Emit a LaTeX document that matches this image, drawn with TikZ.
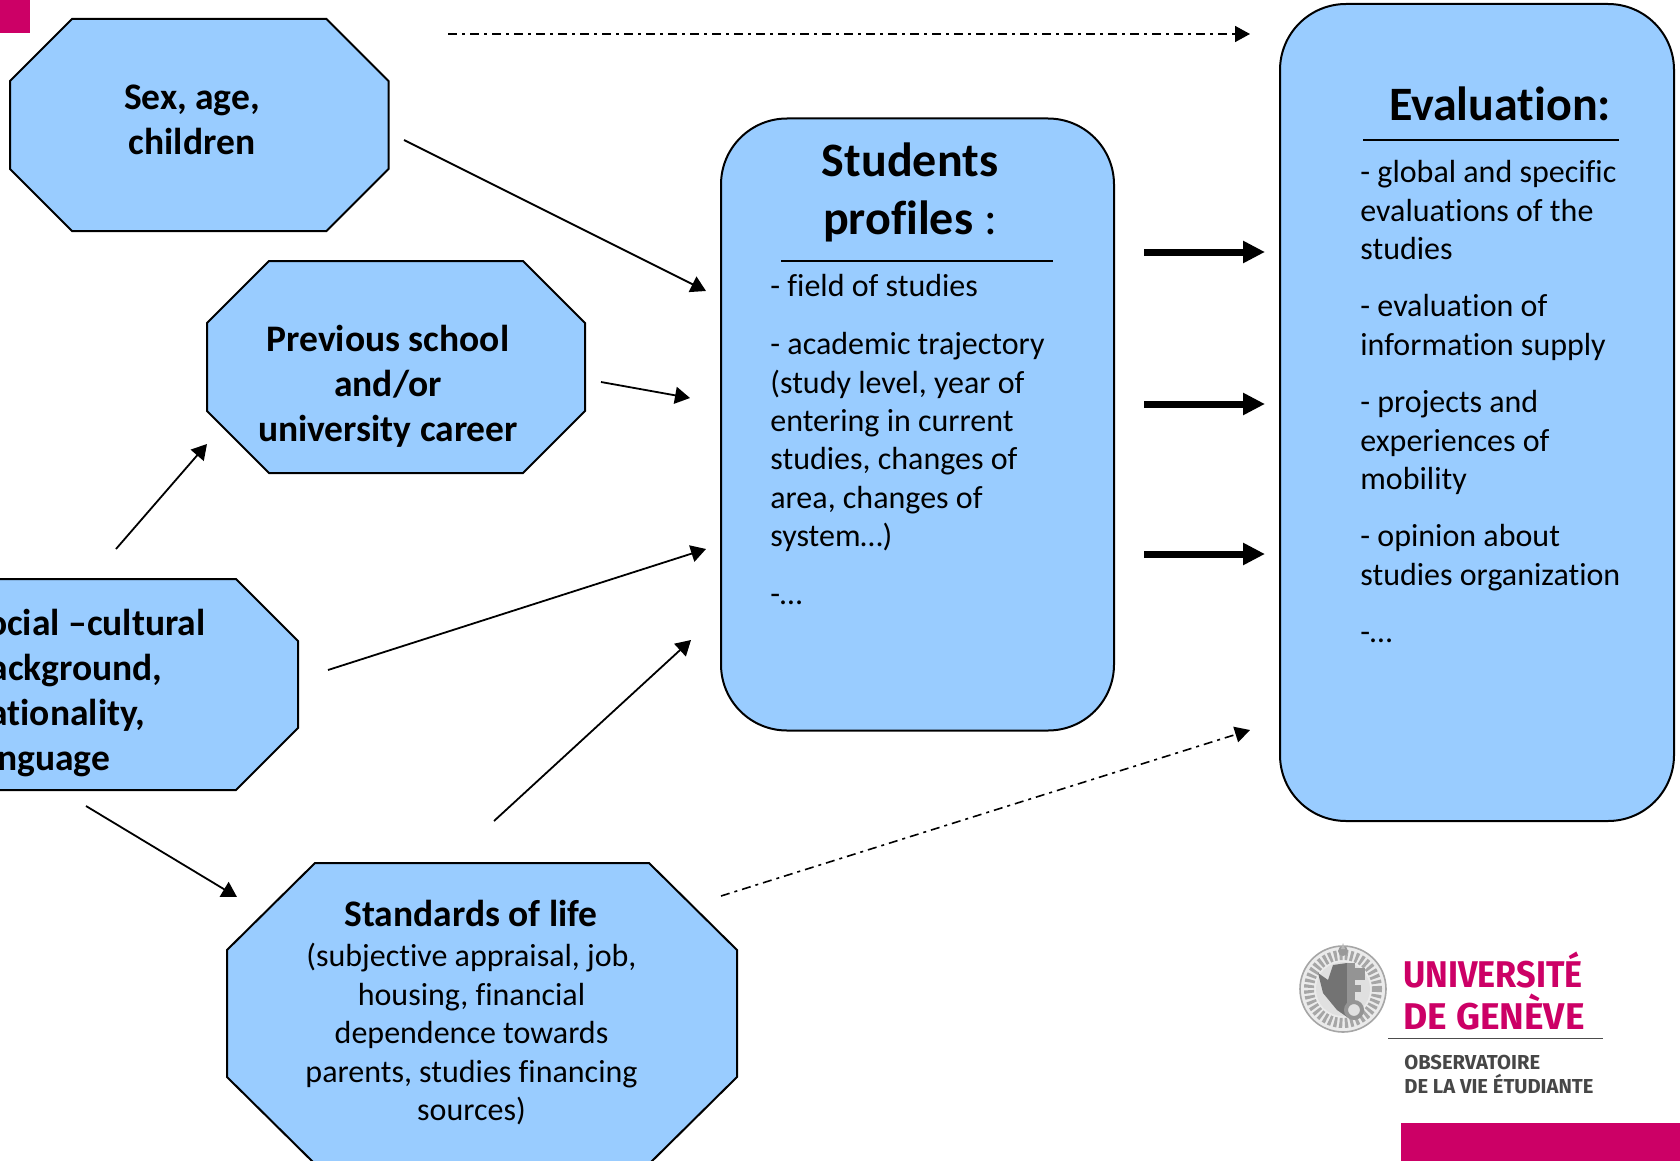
\documentclass[tikz,border=0pt]{standalone}
\usepackage{fontspec}
\setmainfont[Ligatures=NoCommon]{Carlito}
\newfontfamily\logofont{Fira Sans}
\usetikzlibrary{arrows.meta}
\definecolor{boxblue}{HTML}{99CCFF}
\definecolor{unimag}{HTML}{CC0066}
\newcommand{\fbig}{\fontsize{18.75pt}{22.5pt}\selectfont\bfseries}
\newcommand{\fbody}{\fontsize{16pt}{19.2pt}\selectfont}
\newcommand{\fhead}{\fontsize{24pt}{29pt}\selectfont\bfseries}
\tikzset{
  octaline/.style={draw=black,line width=1pt,fill=boxblue,line join=miter},
  octaname/.style={rectangle,inner sep=0pt,outer sep=0pt},
  roundbox/.style={rectangle,draw=black,line width=1pt,fill=boxblue,rounded corners=33pt,inner sep=0pt,outer sep=0pt},
  bigtxt/.style={inner sep=0pt,align=center,font=\fbig},
  bodytxt/.style={inner sep=0pt,align=left,anchor=north west,font=\fbody},
  ctrtxt/.style={inner sep=0pt,align=center,anchor=north,font=\fbody},
  headtxt/.style={inner sep=0pt,align=center,font=\fhead},
  conn/.style={line width=0.9pt,-{Triangle[length=7.5pt,width=8.5pt]}},
  thickconn/.style={line width=3.5pt,-{Triangle[length=11pt,width=10.5pt]}},
  dashconn/.style={line width=0.8pt,dash pattern=on 4.5pt off 2.5pt on 1.5pt off 2.5pt,-{Triangle[length=7.5pt,width=8pt]}},
  rulestyle/.style={line width=0.9pt},
  logotxt/.style={inner sep=0pt,anchor=west,text=unimag,font=\logofont\bfseries\fontsize{18.6pt}{18.6pt}\selectfont},
  logosmall/.style={inner sep=0pt,anchor=west,text=black!72,font=\logofont\bfseries\fontsize{10.1pt}{10.1pt}\selectfont},
}
% name, x1, y1, x2, y2, chamfer x, chamfer y
\newcommand{\octagonbox}[7]{%
  \draw[octaline] ({#2+#6},#3) -- ({#4-#6},#3) -- (#4,{#3+#7}) -- (#4,{#5-#7}) -- ({#4-#6},#5) -- ({#2+#6},#5) -- (#2,{#5-#7}) -- (#2,{#3+#7}) -- cycle;
  \node[octaname,minimum width={(#4-#2)*0.5pt},minimum height={(#5-#3)*0.5pt}] (#1) at ({(#2+#4)/2},{(#3+#5)/2}) {};
}
\begin{document}
\begin{tikzpicture}[x=0.5pt,y=-0.5pt]
\useasboundingbox (0,0) rectangle (1680,1161);
\clip (0,0) rectangle (1680,1161);
\fill[white] (0,0) rectangle (1680,1161);
\fill[unimag] (0,0) rectangle (30,33);
\fill[unimag] (1401,1123) rectangle (1680,1161);

\octagonbox{sex}{10}{19}{388.5}{231}{62}{62}
\octagonbox{prev}{207}{261}{585}{473}{62}{62}
\octagonbox{social}{-80}{579}{298}{790}{62}{62}
\octagonbox{std}{227}{863}{737}{1164}{88}{87}
\node[roundbox,minimum width=196.5pt,minimum height=306pt] (students) at (917.5,424.5) {};
\node[roundbox,minimum width=197pt,minimum height=408.5pt] (eval) at (1477,412.5) {};

\node[bigtxt] (tsex) at (192,120) {Sex, age,\\children};
\node[bigtxt] (tprev) at (388,386) {Previous school\\and/or\\university career};
\node[bigtxt,align=left,anchor=north west] (tsoc) at (-31,609) {Social –cultural\\background,\\nationality,\\language};

\node[bigtxt] (tstdh) at (471,913.5) {Standards of life};
\node[ctrtxt] (tstd) at (471.5,943) {(subjective appraisal, job,\\housing, financial\\dependence towards\\parents, studies financing\\sources)};

\node[headtxt] (tstu) at (910,192) {Students\\profiles\textmd{ :}};
\coordinate (r1a) at (781,261); \coordinate (r1b) at (1053,261);
\draw[rulestyle] (r1a) -- (r1b);
\node[bodytxt] (b1) at (770,274) {- field of studies};
\node[bodytxt] (b2) at (770,332) {- academic trajectory\\(study level, year of\\entering in current\\studies, changes of\\area, changes of\\system…)};
\node[bodytxt] (b3) at (770,594) {-…};

\node[headtxt,anchor=center] (tev) at (1500,103.5) {Evaluation:};
\coordinate (r2a) at (1363,140); \coordinate (r2b) at (1619,140);
\draw[rulestyle] (r2a) -- (r2b);
\node[bodytxt] (e1) at (1360,160) {- global and specific\\evaluations of the\\studies};
\node[bodytxt] (e2) at (1360,294) {- evaluation of\\information supply};
\node[bodytxt] (e3) at (1360,390) {- projects and\\experiences of\\mobility};
\node[bodytxt] (e4) at (1360,524) {- opinion about\\studies organization};
\node[bodytxt] (e5) at (1360,632) {-…};

\coordinate (a1s) at (404,140); \coordinate (a1e) at (706,291);
\coordinate (a2s) at (601,382); \coordinate (a2e) at (690,398);
\coordinate (a3s) at (328,670); \coordinate (a3e) at (706,549);
\coordinate (a4s) at (494,821); \coordinate (a4e) at (691,640);
\coordinate (a5s) at (116,549); \coordinate (a5e) at (207,444);
\coordinate (a6s) at (86,806); \coordinate (a6e) at (237,897);
\coordinate (d1s) at (448,34); \coordinate (d1e) at (1250,34);
\coordinate (d2s) at (721,896); \coordinate (d2e) at (1250,730);
\coordinate (t1s) at (1144,252); \coordinate (t1e) at (1265,252);
\coordinate (t2s) at (1144,404); \coordinate (t2e) at (1265,404);
\coordinate (t3s) at (1144,554); \coordinate (t3e) at (1265,554);
\draw[conn] (a1s) -- (a1e);
\draw[conn] (a2s) -- (a2e);
\draw[conn] (a3s) -- (a3e);
\draw[conn] (a4s) -- (a4e);
\draw[conn] (a5s) -- (a5e);
\draw[conn] (a6s) -- (a6e);
\draw[dashconn] (d1s) -- (d1e);
\draw[dashconn] (d2s) -- (d2e);
\draw[thickconn] (t1s) -- (t1e);
\draw[thickconn] (t2s) -- (t2e);
\draw[thickconn] (t3s) -- (t3e);

% logo seal
\coordinate (seal) at (1343,989);
\draw[black!35,line width=0.8pt,fill=black!8] (seal) circle (43);
\draw[black!35,line width=5pt,dash pattern=on 1.5pt off 1.2pt] (seal) circle (34);
\fill[white!88!black] (seal) circle (27);
\fill[black!55] (1347,963) -- (1347,1017) -- (1337,1010) -- (1323,993) -- (1318,973) -- (1328,980) -- (1333,965) -- cycle;
\fill[black!42] (1347,963) rectangle (1355,1003);
\fill[black!42] (1355,968) rectangle (1365,980);
\fill[black!42] (1355,985) rectangle (1361,992);
\draw[black!42,line width=2pt,fill=black!12] (1354,1010) circle (8);
\fill[black!40] (1343,951) circle (5);
\fill[black!28] (1343,943) -- (1345,949) -- (1341,949) -- cycle;
\node[logotxt] (l1) at (1403,970) {\scalebox{0.92}[1]{UNIVERSITÉ}};
\node[logotxt] (l2) at (1403,1012) {DE GENÈVE};
\coordinate (l3a) at (1388,1038); \coordinate (l3b) at (1603,1038);
\draw[black!70,line width=0.5pt] (l3a) -- (l3b);
\node[logosmall] (l4) at (1404,1062) {OBSERVATOIRE};
\node[logosmall] (l5) at (1404,1084) {DE LA VIE ÉTUDIANTE};
\end{tikzpicture}
\end{document}
